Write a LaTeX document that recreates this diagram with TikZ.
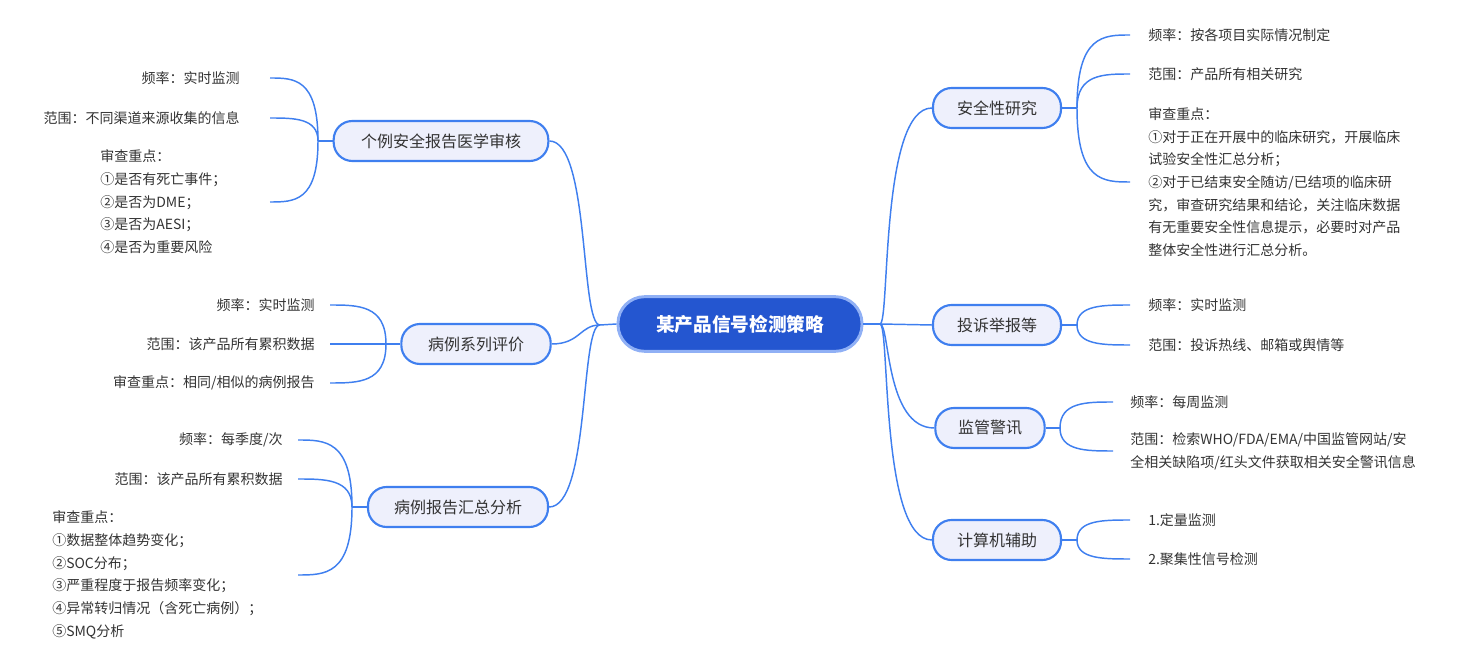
\documentclass[tikz,border=0pt]{standalone}
\usepackage{fontspec}
\setmainfont{Noto Sans CJK SC}
\usetikzlibrary{calc}
\definecolor{linkblue}{HTML}{3F7FEF}
\definecolor{rootblue}{HTML}{2456D0}
\definecolor{rootrim}{HTML}{90B0F5}
\definecolor{topicfill}{HTML}{EEF0FC}
\definecolor{inkgray}{HTML}{333333}
\tikzset{
  root/.style={draw=rootrim, line width=2.2pt, fill=rootblue, rounded corners=20pt,
    text=white, font=\fontsize{14}{16}\selectfont\bfseries, minimum width=183pt, minimum height=41pt},
  topic/.style={draw=linkblue, line width=1.6pt, fill=topicfill, rounded corners=14pt,
    text=inkgray, font=\fontsize{12}{14}\selectfont, minimum height=30pt, inner xsep=10pt},
  leaf/.style={text=inkgray, font=\fontsize{10.5}{17}\selectfont, inner sep=0pt, align=left},
  link/.style={draw=linkblue, line width=1.1pt},
}
\newcommand{\twig}[2]{\draw[link] (#1) .. controls (#1 |- #2) and ($(#1 |- #2)!0.5!(#2)$) .. (#2);}
\begin{document}
\begin{tikzpicture}[x=0.75pt, y=-0.75pt]
    \useasboundingbox (0,0) rectangle (1465,655);

    % Root
    \node[root] (root) at (740,324) {某产品信号检测策略};

    % Topics on the left
    \node[topic, minimum width=161pt] (case) at (441,141) {个例安全报告医学审核};
    \node[topic, minimum width=112pt] (series) at (476,344) {病例系列评价};
    \node[topic, minimum width=135pt] (sum) at (458,507) {病例报告汇总分析};

    % Topics on the right
    \node[topic, minimum width=96pt] (study) at (997,108) {安全性研究};
    \node[topic, minimum width=96pt] (complain) at (997,325) {投诉举报等};
    \node[topic, minimum width=82pt] (alert) at (990,428) {监管警讯};
    \node[topic, minimum width=96pt] (computer) at (997,540) {计算机辅助};

    % Main links
    \coordinate (rl) at (600,325);
    \coordinate (rr) at (880,324);
    \draw[link] (root.west) -- (rl);
    \draw[link] (root.east) -- (rr);
    \draw[link] (rl) .. controls (580,325) and (590,141) .. (case.east);
    \draw[link] (rl) .. controls (580,325) and (580,344) .. (series.east);
    \draw[link] (rl) .. controls (580,325) and (590,507) .. (sum.east);
    \draw[link] (rr) .. controls (890,324) and (880,108) .. (study.west);
    \draw[link] (rr) -- (complain.west);
    \draw[link] (rr) .. controls (890,324) and (885,428) .. (alert.west);
    \draw[link] (rr) .. controls (890,324) and (880,540) .. (computer.west);

    % Junctions
    \coordinate (jcase) at (318,141);
    \coordinate (jseries) at (386,344);
    \coordinate (jsum) at (352,507);
    \coordinate (jstudy) at (1077,108);
    \coordinate (jcomplain) at (1077,325);
    \coordinate (jalert) at (1060,428);
    \coordinate (jcomputer) at (1077,540);
    \draw[link] (case.west) -- (jcase);
    \draw[link] (series.west) -- (jseries);
    \draw[link] (sum.west) -- (jsum);
    \draw[link] (study.east) -- (jstudy);
    \draw[link] (complain.east) -- (jcomplain);
    \draw[link] (alert.east) -- (jalert);
    \draw[link] (computer.east) -- (jcomputer);

    % Leaf ends
    \coordinate (c1) at (270,78);  \coordinate (c2) at (270,118);  \coordinate (c3) at (270,202);
    \coordinate (s1) at (330,305); \coordinate (s2) at (330,344);  \coordinate (s3) at (330,383);
    \coordinate (m1) at (298,440); \coordinate (m2) at (298,479);  \coordinate (m3) at (298,575);
    \coordinate (t1) at (1130,35); \coordinate (t2) at (1130,74);  \coordinate (t3) at (1130,182);
    \coordinate (p1) at (1130,305); \coordinate (p2) at (1130,345);
    \coordinate (a1) at (1113,402); \coordinate (a2) at (1113,451);
    \coordinate (k1) at (1130,520); \coordinate (k2) at (1130,559);
    \twig{jcase}{c1} \twig{jcase}{c2} \twig{jcase}{c3}
    \twig{jseries}{s1} \twig{jseries}{s2} \twig{jseries}{s3}
    \twig{jsum}{m1} \twig{jsum}{m2} \twig{jsum}{m3}
    \twig{jstudy}{t1} \twig{jstudy}{t2} \twig{jstudy}{t3}
    \twig{jcomplain}{p1} \twig{jcomplain}{p2}
    \twig{jalert}{a1} \twig{jalert}{a2}
    \twig{jcomputer}{k1} \twig{jcomputer}{k2}

    % Leaf texts
    \node[leaf, anchor=east] (c1t) at (240,78) {频率：实时监测};
    \node[leaf, anchor=east] (c2t) at (240,118) {范围：不同渠道来源收集的信息};
    \node[leaf, anchor=west] (c3t) at (100,202) {审查重点：\\①是否有死亡事件；\\②是否为DME；\\③是否为AESI；\\④是否为重要风险};
    \node[leaf, anchor=east] (s1t) at (315,305) {频率：实时监测};
    \node[leaf, anchor=east] (s2t) at (315,344) {范围：该产品所有累积数据};
    \node[leaf, anchor=east] (s3t) at (315,383) {审查重点：相同/相似的病例报告};
    \node[leaf, anchor=east] (m1t) at (283,440) {频率：每季度/次};
    \node[leaf, anchor=east] (m2t) at (283,479) {范围：该产品所有累积数据};
    \node[leaf, anchor=west] (m3t) at (52,575) {审查重点：\\①数据整体趋势变化；\\②SOC分布；\\③严重程度于报告频率变化；\\④异常转归情况（含死亡病例）；\\⑤SMQ分析};
    \node[leaf, anchor=west] (t1t) at (1148,35) {频率：按各项目实际情况制定};
    \node[leaf, anchor=west] (t2t) at (1148,74) {范围：产品所有相关研究};
    \node[leaf, anchor=west] (t3t) at (1148,182) {审查重点：\\①对于正在开展中的临床研究，开展临床\\试验安全性汇总分析；\\②对于已结束安全随访/已结项的临床研\\究，审查研究结果和结论，关注临床数据\\有无重要安全性信息提示，必要时对产品\\整体安全性进行汇总分析。};
    \node[leaf, anchor=west] (p1t) at (1148,305) {频率：实时监测};
    \node[leaf, anchor=west] (p2t) at (1148,345) {范围：投诉热线、邮箱或舆情等};
    \node[leaf, anchor=west] (a1t) at (1130,402) {频率：每周监测};
    \node[leaf, anchor=west] (a2t) at (1130,451) {范围：检索WHO/FDA/EMA/中国监管网站/安\\全相关缺陷项/红头文件获取相关安全警讯信息};
    \node[leaf, anchor=west] (k1t) at (1148,520) {1.定量监测};
    \node[leaf, anchor=west] (k2t) at (1148,559) {2.聚集性信号检测};
\end{tikzpicture}
\end{document}
